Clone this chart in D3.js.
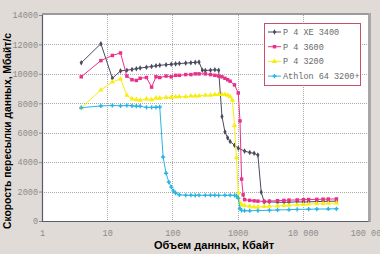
<!DOCTYPE html>
<html>
<head>
<meta charset="utf-8">
<script src="https://cdn.jsdelivr.net/npm/d3@7"></script>
<style>
body { margin: 0; background: #e0dbd6; }
svg { display: block; }
</style>
</head>
<body>
<div id="chart"></div>
<script>
// values (KB -> MB/s)
var xeSizes = [4, 8, 12, 16, 20, 24, 28, 32, 40, 48, 56, 64, 80, 96, 112, 128, 160, 192, 224, 256, 288, 320, 384, 448, 512, 576, 640, 704, 768, 896, 1024, 1280, 1536, 1792, 2048, 2304, 2560, 3072, 4096, 5120, 6144, 8192, 10240, 12288, 16384, 20480, 24576, 32768];
var xeSpeed = [10750, 12050, 9700, 10200, 10250, 10300, 10350, 10400, 10450, 10500, 10550, 10580, 10620, 10650, 10680, 10700, 10730, 10760, 10780, 10800, 10250, 10230, 10250, 10280, 10250, 7100, 6050, 5650, 5400, 5150, 4950, 4750, 4650, 4600, 4480, 1950, 1300, 1300, 1280, 1270, 1280, 1300, 1290, 1300, 1320, 1330, 1340, 1350];

var p36Sizes = [4, 8, 12, 16, 20, 24, 28, 32, 40, 48, 56, 64, 80, 96, 112, 128, 160, 192, 224, 256, 320, 384, 448, 512, 576, 640, 704, 768, 896, 1024, 1088, 1152, 1216, 1280, 1536, 1792, 2048, 2560, 3072, 4096, 5120, 6144, 8192, 10240, 12288, 16384, 20480, 24576, 32768];
var p36Speed = [9800, 10900, 11250, 11420, 9850, 9600, 9550, 9700, 9750, 9100, 9800, 9750, 9850, 9800, 9900, 9900, 9950, 9950, 10000, 10000, 10000, 9950, 9900, 9850, 9800, 9700, 9600, 9500, 9250, 8700, 6800, 2850, 1780, 1450, 1400, 1370, 1350, 1330, 1350, 1380, 1400, 1420, 1430, 1450, 1460, 1470, 1480, 1490, 1500];

var p32Sizes = [4, 8, 12, 16, 20, 24, 28, 32, 40, 48, 56, 64, 80, 96, 112, 128, 160, 192, 224, 256, 320, 384, 448, 512, 576, 640, 704, 768, 832, 896, 960, 1024, 1088, 1152, 1280, 1536, 1792, 2048, 2560, 3072, 4096, 5120, 6144, 8192, 10240, 12288, 16384, 20480, 24576, 32768];
var p32Speed = [7700, 8900, 9450, 9650, 8550, 8300, 8250, 8200, 8300, 8250, 8350, 8350, 8400, 8400, 8450, 8450, 8450, 8500, 8500, 8500, 8550, 8550, 8600, 8600, 8600, 8600, 8550, 8450, 8200, 6500, 4300, 1900, 1250, 1100, 1050, 1000, 950, 950, 980, 1000, 1020, 1050, 1070, 1100, 1120, 1150, 1170, 1190, 1200, 1220];

var athSizes = [4, 8, 12, 16, 20, 24, 28, 32, 40, 48, 56, 64, 72, 80, 88, 96, 104, 112, 128, 160, 192, 224, 256, 320, 384, 448, 512, 640, 768, 896, 960, 1024, 1088, 1152, 1280, 1536, 2048, 3072, 4096, 6144, 8192, 12288, 16384, 24576, 32768];
var athSpeed = [7700, 7820, 7850, 7830, 7850, 7830, 7800, 7800, 7720, 7720, 7730, 7750, 4350, 3250, 2650, 2300, 2050, 1900, 1780, 1750, 1750, 1740, 1750, 1750, 1750, 1750, 1740, 1750, 1750, 1740, 1700, 1550, 850, 720, 700, 700, 710, 730, 750, 770, 790, 800, 810, 820, 830];

var seriesNames = ["P 4 XE 3400", "P 4 3600", "P 4 3200", "Athlon 64 3200+"];
var seriesColors = ["#4b4b5e", "#e8318a", "#f6ee10", "#2ab4e6"];
var seriesMarks = ["diamond", "square", "triangle", "star"];

var yTicks = [0, 2000, 4000, 6000, 8000, 10000, 12000, 14000];
var xTicks = [1, 10, 100, 1000, 10000, 100000];
var xTickLabels = ["1", "10", "100", "1000", "10 000", "100 000"];

var series = [
  { sizes: xeSizes, speed: xeSpeed },
  { sizes: p36Sizes, speed: p36Speed },
  { sizes: p32Sizes, speed: p32Speed },
  { sizes: athSizes, speed: athSpeed }
];

var width = 380, height = 254;
var plotLeft = 42, plotRight = 368, plotTop = 15, plotBottom = 221;

var svg = d3.select("#chart").append("svg")
  .attr("width", width)
  .attr("height", height);

var x = d3.scaleLog().domain([1, 100000]).range([plotLeft, plotRight]);
var y = d3.scaleLinear().domain([0, 14000]).range([plotBottom, plotTop]);

// plot area
svg.append("rect")
  .attr("x", plotLeft).attr("y", plotTop)
  .attr("width", plotRight - plotLeft).attr("height", plotBottom - plotTop)
  .attr("fill", "#fff");

// frame top and right
svg.append("line")
  .attr("x1", plotLeft).attr("x2", plotRight + 2)
  .attr("y1", plotTop - 1).attr("y2", plotTop - 1)
  .attr("stroke", "#9a9a9e").attr("stroke-width", 2);
svg.append("line")
  .attr("x1", plotRight + 1.5).attr("x2", plotRight + 1.5)
  .attr("y1", plotTop - 2).attr("y2", plotBottom + 1)
  .attr("stroke", "#a8a6a8").attr("stroke-width", 3);

// grid
svg.append("g").selectAll("line")
  .data(yTicks.slice(1, -1))
  .enter().append("line")
  .attr("x1", plotLeft).attr("x2", plotRight)
  .attr("y1", function(d) { return Math.round(y(d)) + 0.5; })
  .attr("y2", function(d) { return Math.round(y(d)) + 0.5; })
  .attr("stroke", "#a9a9a9").attr("stroke-dasharray", "1,1");
svg.append("g").selectAll("line")
  .data(xTicks.slice(1, -1))
  .enter().append("line")
  .attr("x1", function(d) { return Math.round(x(d)) + 0.5; })
  .attr("x2", function(d) { return Math.round(x(d)) + 0.5; })
  .attr("y1", plotTop).attr("y2", plotBottom)
  .attr("stroke", "#a9a9a9").attr("stroke-dasharray", "1,1");

// axes
var yAxis = d3.axisLeft(y).tickValues(yTicks).tickSize(3).tickPadding(1)
  .tickFormat(d3.format("d"));
var gy = svg.append("g").attr("transform", "translate(" + plotLeft + ",0)").call(yAxis);
var xAxis = d3.axisBottom(x).tickValues(xTicks).tickSize(0).tickPadding(9)
  .tickFormat(function(d, i) { return xTickLabels[i]; });
var gx = svg.append("g").attr("transform", "translate(0," + plotBottom + ")").call(xAxis);

[gx, gy].forEach(function(g) {
  g.select(".domain").attr("stroke", "#5a5a6e").attr("stroke-width", 1.2);
  g.selectAll(".tick line").attr("stroke", "#8a8a95");
  g.selectAll(".tick text")
    .attr("fill", "#8c8c8c")
    .style("font-family", "'Liberation Mono', monospace")
    .style("font-size", "8.5px");
});

// lines and markers
var line = d3.line()
  .x(function(d) { return x(d[0]); })
  .y(function(d) { return y(d[1]); });

function markPath(type) {
  if (type === "diamond") return d3.symbol().type(d3.symbolDiamond).size(9)();
  if (type === "square") return d3.symbol().type(d3.symbolSquare).size(12)();
  if (type === "triangle") return d3.symbol().type(d3.symbolTriangle).size(12)();
  return d3.symbol().type(d3.symbolCross).size(10)();
}

series.forEach(function(s, i) {
  var pts = s.sizes.map(function(v, j) { return [v, s.speed[j]]; });
  var g = svg.append("g");
  g.append("path")
    .attr("d", line(pts))
    .attr("fill", "none")
    .attr("stroke", seriesColors[i])
    .attr("stroke-width", 1);
  g.selectAll("path.m")
    .data(pts)
    .enter().append("path")
    .attr("class", "m")
    .attr("d", markPath(seriesMarks[i]))
    .attr("transform", function(d) { return "translate(" + x(d[0]) + "," + y(d[1]) + ")"; })
    .attr("fill", seriesColors[i]);
});

// legend
var leg = svg.append("g");
leg.append("rect")
  .attr("x", 264.5).attr("y", 23.5)
  .attr("width", 96).attr("height", 62)
  .attr("fill", "#fff")
  .attr("stroke", "#c9506a").attr("stroke-width", 1);
seriesNames.forEach(function(name, i) {
  var yy = 32 + i * 14.7;
  leg.append("line")
    .attr("x1", 268).attr("x2", 281)
    .attr("y1", yy).attr("y2", yy)
    .attr("stroke", seriesColors[i]);
  leg.append("path")
    .attr("d", markPath(seriesMarks[i]))
    .attr("transform", "translate(274.5," + yy + ")")
    .attr("fill", seriesColors[i]);
  leg.append("text")
    .attr("x", 283).attr("y", yy + 3)
    .attr("fill", "#6a6a6a")
    .style("font-family", "'Liberation Mono', monospace")
    .style("font-size", "8.5px")
    .text(name);
});

// axis titles
svg.append("text")
  .attr("x", 214).attr("y", 249)
  .attr("text-anchor", "middle")
  .style("font-family", "'Liberation Sans', Arial, sans-serif")
  .style("font-weight", "bold")
  .style("font-size", "11px")
  .text("Объем данных, Кбайт");
svg.append("text")
  .attr("transform", "translate(11,131) rotate(-90)")
  .attr("text-anchor", "middle")
  .style("font-family", "'Liberation Sans', Arial, sans-serif")
  .style("font-weight", "bold")
  .style("font-size", "10.3px")
  .text("Скорость пересылки данных, Мбайт/с");
</script>
</body>
</html>
